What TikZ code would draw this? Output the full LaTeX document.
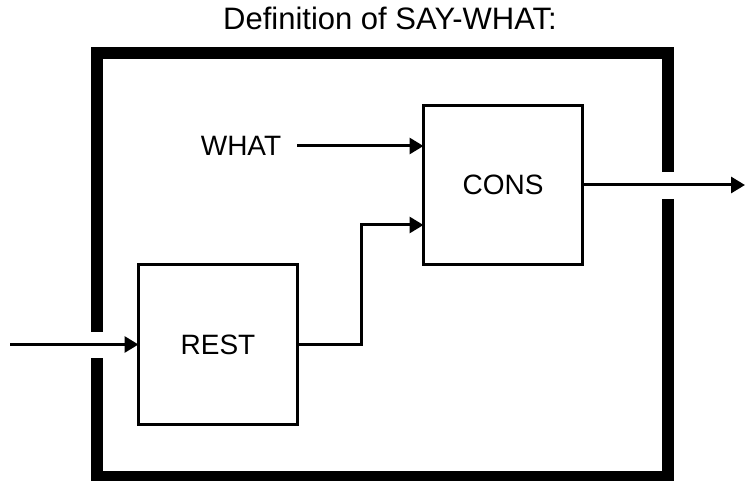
\documentclass[tikz,border=0pt]{standalone}
\usepackage{fontspec}
\setmainfont{Liberation Sans}
\usetikzlibrary{arrows.meta,positioning}
\tikzset{
	block/.style = {draw, line width=3pt, outer sep=0pt, minimum width=159pt, minimum height=159pt},
	wire/.style = {line width=3pt, -{Triangle[length=14pt,width=16pt]}},
	frame/.style = {line width=12pt, line join=miter}
}
\begin{document}
\begin{tikzpicture}[x=1pt, y=-1pt, font=\fontsize{28}{32}\selectfont]
	\useasboundingbox (0,0) rectangle (745,481);
	\node [font=\fontsize{31}{36}\selectfont] (title) at (390,18) {Definition of SAY-WHAT:};
	\draw [frame] (97,332) -- (97,53) -- (668,53) -- (668,172);
	\draw [frame] (668,199) -- (668,477) -- (97,477) -- (97,358);
	\node [block] (cons) at (503,185) {CONS};
	\node [block] (rest) at (218,344.5) {REST};
	\node [inner xsep=16pt] (what) at (241,146) {WHAT};
	\coordinate (in) at (10,344.5);
	\coordinate (out) at (745,185);
	\draw [wire] (in) -- (rest.west);
	\draw [wire] (cons.east) -- (out);
	\draw [wire] (what.east) -- (what.east -| cons.west);
	\draw [wire] (rest.east) -- ++(64,0) |- ([yshift=-40pt]cons.west);
\end{tikzpicture}
\end{document}
